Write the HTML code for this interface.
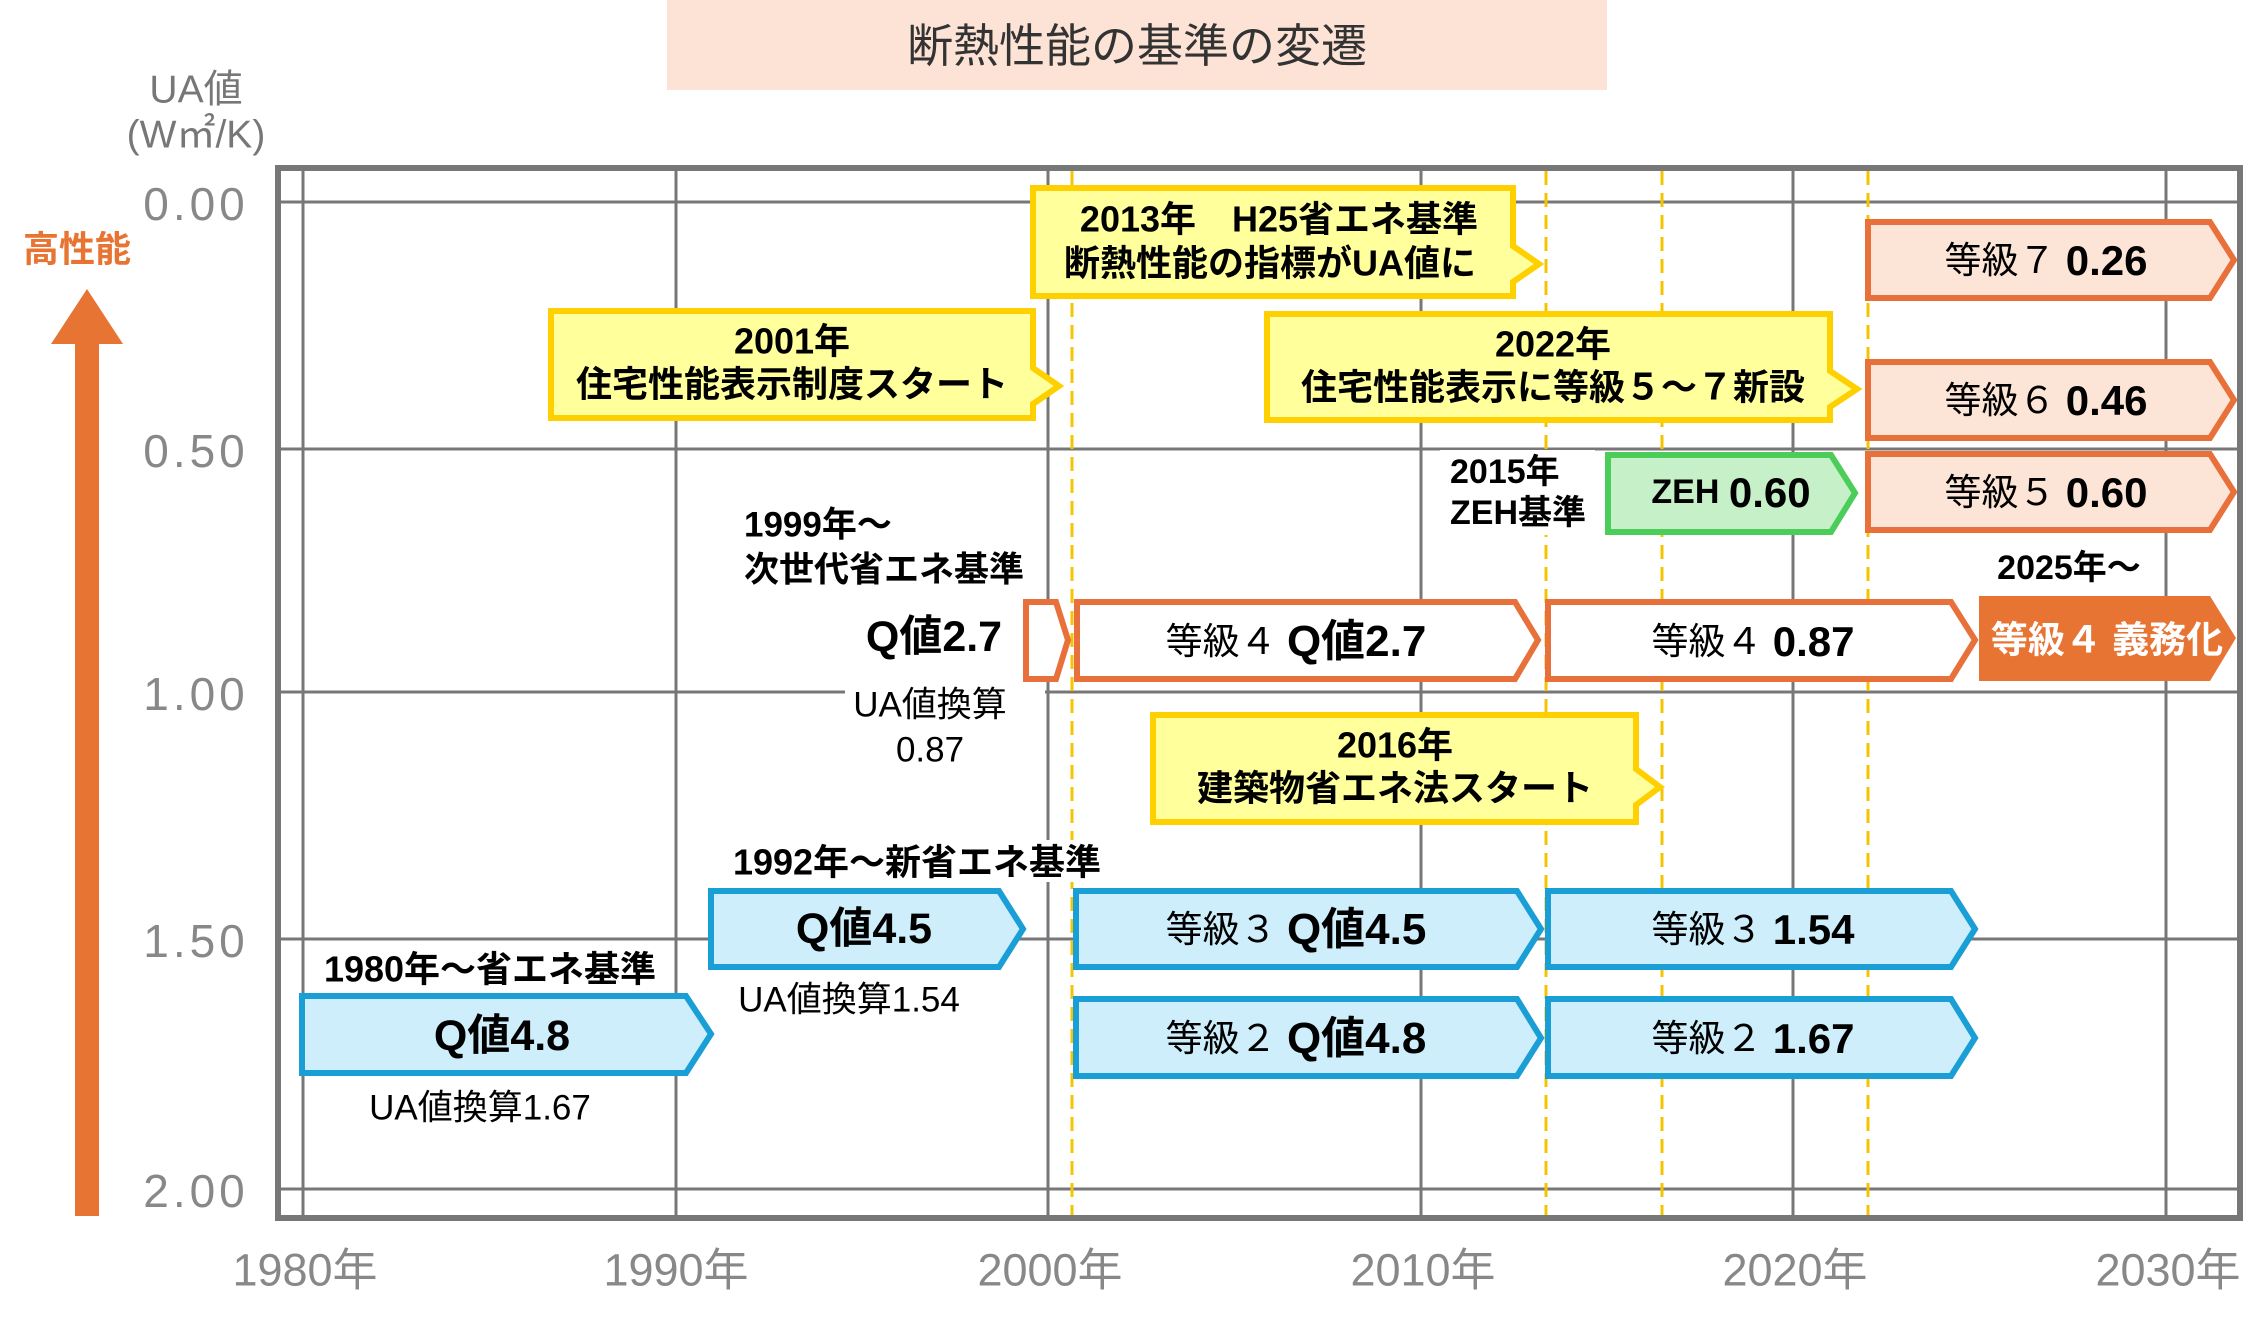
<!DOCTYPE html>
<html><head><meta charset="utf-8"><style>
html,body{margin:0;padding:0;background:#fff;}
svg{display:block;font-family:"Liberation Sans","Noto Sans CJK JP",sans-serif;}
</style></head><body>
<svg width="2262" height="1318" viewBox="0 0 2262 1318" xmlns="http://www.w3.org/2000/svg">
<rect x="0" y="0" width="2262" height="1318" fill="#fff"/>
<!-- title -->
<rect x="667" y="0" width="940" height="90" fill="#fce3d6"/>
<text x="1137" y="46" font-size="46" fill="#333" text-anchor="middle" dominant-baseline="central">断熱性能の基準の変遷</text>
<!-- axis labels -->
<text x="196" y="90" font-size="39" fill="#777" text-anchor="middle" dominant-baseline="central">UA値</text>
<text x="196" y="135" font-size="39" fill="#777" text-anchor="middle" dominant-baseline="central">(W㎡/K)</text>
<text x="77" y="249" font-size="36" font-weight="bold" fill="#e87434" text-anchor="middle" dominant-baseline="central">高性能</text>
<polygon points="87,289 123,344 99,344 99,1216 75,1216 75,344 51,344" fill="#e87434"/>
<g font-size="46" fill="#888" text-anchor="middle" dominant-baseline="central" letter-spacing="4">
<text x="196" y="204">0.00</text>
<text x="196" y="451">0.50</text>
<text x="196" y="694">1.00</text>
<text x="196" y="941">1.50</text>
<text x="196" y="1191">2.00</text>
</g>
<g font-size="45" fill="#888" text-anchor="middle" dominant-baseline="central">
<text x="305" y="1270">1980年</text>
<text x="676" y="1270">1990年</text>
<text x="1050" y="1270">2000年</text>
<text x="1423" y="1270">2010年</text>
<text x="1795" y="1270">2020年</text>
<text x="2168" y="1270">2030年</text>
</g>
<!-- grid -->
<g stroke="#777" stroke-width="3">
<line x1="278" y1="202" x2="2240" y2="202"/>
<line x1="278" y1="449" x2="2240" y2="449"/>
<line x1="278" y1="692" x2="2240" y2="692"/>
<line x1="278" y1="939" x2="2240" y2="939"/>
<line x1="278" y1="1189" x2="2240" y2="1189"/>
<line x1="303" y1="168" x2="303" y2="1218"/>
<line x1="676" y1="168" x2="676" y2="1218"/>
<line x1="1048" y1="168" x2="1048" y2="1218"/>
<line x1="1421" y1="168" x2="1421" y2="1218"/>
<line x1="1793" y1="168" x2="1793" y2="1218"/>
<line x1="2166" y1="168" x2="2166" y2="1218"/>
</g>
<rect x="278" y="168" width="1962" height="1050" fill="none" stroke="#777" stroke-width="6"/>
<!-- dashed -->
<g stroke="#f5c400" stroke-width="3" stroke-dasharray="14,8">
<line x1="1072" y1="171" x2="1072" y2="1215"/>
<line x1="1546" y1="171" x2="1546" y2="1215"/>
<line x1="1662" y1="171" x2="1662" y2="1215"/>
<line x1="1868" y1="171" x2="1868" y2="1215"/>
</g>
<!-- white label backgrounds -->
<rect x="738" y="500" width="300" height="90" fill="#fff"/>
<rect x="845" y="676" width="200" height="95" fill="#fff"/>
<rect x="1440" y="450" width="155" height="85" fill="#fff"/>
<rect x="1985" y="545" width="175" height="45" fill="#fff"/>
<rect x="318" y="945" width="345" height="45" fill="#fff"/>
<rect x="725" y="840" width="385" height="42" fill="#fff"/>
<!-- blue boxes -->
<g fill="#cdeefa" stroke="#1a9ed6" stroke-width="6">
<polygon points="302,996 686,996 711,1034 686,1073 302,1073"/>
<polygon points="711,891 999,891 1023,929 999,967 711,967"/>
<polygon points="1076,891 1517,891 1541,929 1517,967 1076,967"/>
<polygon points="1076,999 1517,999 1541,1038 1517,1076 1076,1076"/>
<polygon points="1548,891 1951,891 1975,929 1951,967 1548,967"/>
<polygon points="1548,999 1951,999 1975,1038 1951,1076 1548,1076"/>
</g>
<!-- orange outline boxes -->
<g fill="#fff" stroke="#e8703a" stroke-width="6">
<polygon points="1026,602 1056,602 1068,640 1056,679 1026,679"/>
<polygon points="1077,602 1515,602 1538,640 1515,679 1077,679"/>
<polygon points="1548,602 1951,602 1975,640 1951,679 1548,679"/>
</g>
<polygon points="1979,596 2210,596 2236,638 2210,681 1979,681" fill="#e87434"/>
<g fill="#fce4d6" stroke="#e8703a" stroke-width="6">
<polygon points="1868,222 2210,222 2234,260 2210,298 1868,298"/>
<polygon points="1868,362 2210,362 2234,400 2210,438 1868,438"/>
<polygon points="1868,454 2210,454 2234,492 2210,530 1868,530"/>
</g>
<polygon points="1608,455 1831,455 1855,493 1831,532 1608,532" fill="#c5f0c8" stroke="#4ccd5a" stroke-width="6"/>
<!-- yellow callouts -->
<g fill="#ffff9c" stroke="#ffd000" stroke-width="6">
<polygon points="1033,188 1513,188 1513,246 1539,264 1513,282 1513,296 1033,296"/>
<polygon points="551,311 1033,311 1033,368 1059,386 1033,404 1033,418 551,418"/>
<polygon points="1267,314 1830,314 1830,371 1857,389 1830,407 1830,420 1267,420"/>
<polygon points="1153,715 1636,715 1636,769 1660,787 1636,805 1636,822 1153,822"/>
</g>
<!-- texts -->
<g fill="#000" text-anchor="middle" dominant-baseline="central" font-weight="bold">
<text x="1279" y="219" font-size="36">2013年　H25省エネ基準</text>
<text x="1270" y="263" font-size="36">断熱性能の指標がUA値に</text>
<text x="792" y="341" font-size="36">2001年</text>
<text x="792" y="384" font-size="36">住宅性能表示制度スタート</text>
<text x="1553" y="344" font-size="36">2022年</text>
<text x="1553" y="387" font-size="36">住宅性能表示に等級５～７新設</text>
<text x="1395" y="745" font-size="36">2016年</text>
<text x="1395" y="788" font-size="36">建築物省エネ法スタート</text>
<text x="490" y="969" font-size="36">1980年～省エネ基準</text>
<text x="917" y="862" font-size="36">1992年～新省エネ基準</text>
<text x="744" y="525" font-size="35" text-anchor="start">1999年～</text>
<text x="744" y="570" font-size="35" text-anchor="start">次世代省エネ基準</text>
<text x="1450" y="472" font-size="34" text-anchor="start">2015年</text>
<text x="1450" y="513" font-size="34" text-anchor="start">ZEH基準</text>
<text x="2069" y="568" font-size="34">2025年～</text>
<text x="502" y="1036" font-size="43">Q値4.8</text>
<text x="864" y="929" font-size="43">Q値4.5</text>
<text x="934" y="637" font-size="43">Q値2.7</text>
</g>
<g fill="#000" text-anchor="middle" dominant-baseline="central" font-size="35">
<text x="480" y="1108">UA値換算1.67</text>
<text x="849" y="1000">UA値換算1.54</text>
<text x="930" y="705">UA値換算</text>
<text x="930" y="750">0.87</text>
</g>
<g text-anchor="middle" dominant-baseline="central" fill="#000">
<text x="1296" y="641"><tspan font-size="37">等級４ </tspan><tspan font-size="44" font-weight="bold">Q値2.7</tspan></text>
<text x="1296" y="929"><tspan font-size="37">等級３ </tspan><tspan font-size="44" font-weight="bold">Q値4.5</tspan></text>
<text x="1296" y="1038"><tspan font-size="37">等級２ </tspan><tspan font-size="44" font-weight="bold">Q値4.8</tspan></text>
<text x="1753" y="641"><tspan font-size="37">等級４ </tspan><tspan font-size="42" font-weight="bold">0.87</tspan></text>
<text x="1753" y="929"><tspan font-size="37">等級３ </tspan><tspan font-size="42" font-weight="bold">1.54</tspan></text>
<text x="1753" y="1038"><tspan font-size="37">等級２ </tspan><tspan font-size="42" font-weight="bold">1.67</tspan></text>
<text x="2046" y="260"><tspan font-size="37">等級７ </tspan><tspan font-size="42" font-weight="bold">0.26</tspan></text>
<text x="2046" y="400"><tspan font-size="37">等級６ </tspan><tspan font-size="42" font-weight="bold">0.46</tspan></text>
<text x="2046" y="492"><tspan font-size="37">等級５ </tspan><tspan font-size="42" font-weight="bold">0.60</tspan></text>
<text x="1731" y="492"><tspan font-size="34" font-weight="bold">ZEH </tspan><tspan font-size="42" font-weight="bold">0.60</tspan></text>
<text x="2107" y="640" fill="#fff" font-size="37" font-weight="bold">等級４ 義務化</text>
</g>
</svg>
</body></html>
